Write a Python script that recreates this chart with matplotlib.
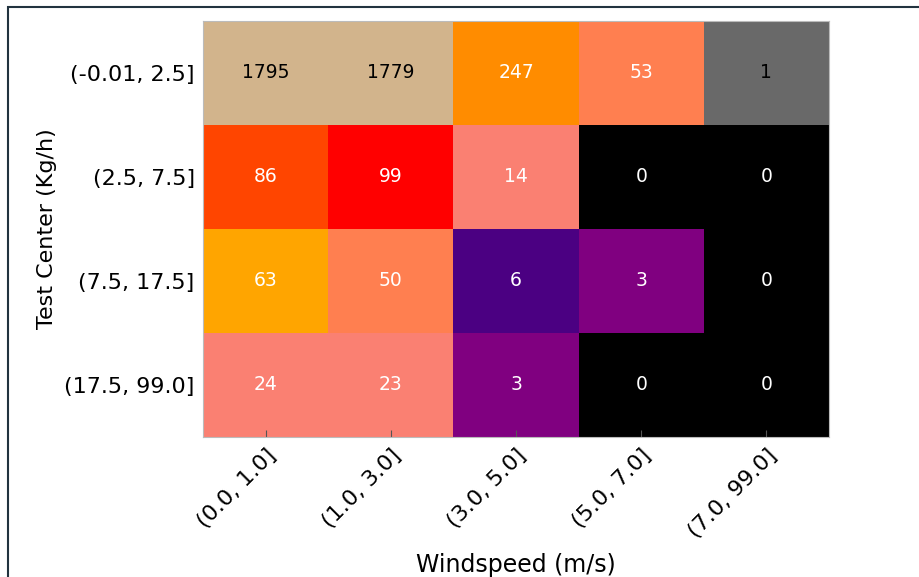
import matplotlib
matplotlib.use("Agg")
import matplotlib.pyplot as plt
import numpy as np
from matplotlib.colors import ListedColormap, BoundaryNorm
from matplotlib.patches import Rectangle

row_labels = ["(-0.01, 2.5]", "(2.5, 7.5]", "(7.5, 17.5]", "(17.5, 99.0]"]
col_labels = ["(0.0, 1.0]", "(1.0, 3.0]", "(3.0, 5.0]", "(5.0, 7.0]", "(7.0, 99.0]"]
counts = np.array([
    [1795, 1779, 247, 53, 1],
    [86, 99, 14, 0, 0],
    [63, 50, 6, 3, 0],
    [24, 23, 3, 0, 0],
])

bounds = [0, 1, 3, 6, 14, 50, 63, 86, 99, 247, 1779, 10000]
palette = ["black", "dimgray", "purple", "indigo", "salmon", "coral",
           "orange", "orangered", "red", "darkorange", "tan"]
cmap = ListedColormap(palette)
norm = BoundaryNorm(bounds, cmap.N)

fig = plt.figure(figsize=(9.2, 5.77), dpi=100)
ax = fig.add_axes([203/920, 1-437/577, (829-203)/920, (437-21)/577])
ax.imshow(counts, cmap=cmap, norm=norm, aspect="auto", interpolation="nearest")

for i in range(counts.shape[0]):
    for j in range(counts.shape[1]):
        v = counts[i, j]
        c = "black" if (v == 1 or v > 1000) else "white"
        ax.text(j, i, str(v), ha="center", va="center", color=c, fontsize=13.5)

ax.set_xticks(range(len(col_labels)))
ax.set_xticklabels(col_labels, rotation=45, ha="right", rotation_mode="anchor", fontsize=16)
ax.set_yticks(range(len(row_labels)))
ax.set_yticklabels(row_labels, fontsize=16)
ax.tick_params(axis="x", direction="in", length=5, color="#555555", pad=6)
ax.tick_params(axis="y", length=0, pad=6)
for s in ax.spines.values():
    s.set_color("#bbbbbb")
    s.set_linewidth(0.8)
ax.set_xlabel("Windspeed (m/s)", fontsize=17, labelpad=8)
ax.set_ylabel("Test Center (Kg/h)", fontsize=16, labelpad=5)

fig.patches.append(Rectangle((8/920, -0.01), 1.0, 1 - 7/577 + 0.01, transform=fig.transFigure,
                             fill=False, edgecolor="#22333f", linewidth=1.5))
fig.savefig("out.png", dpi=100)
